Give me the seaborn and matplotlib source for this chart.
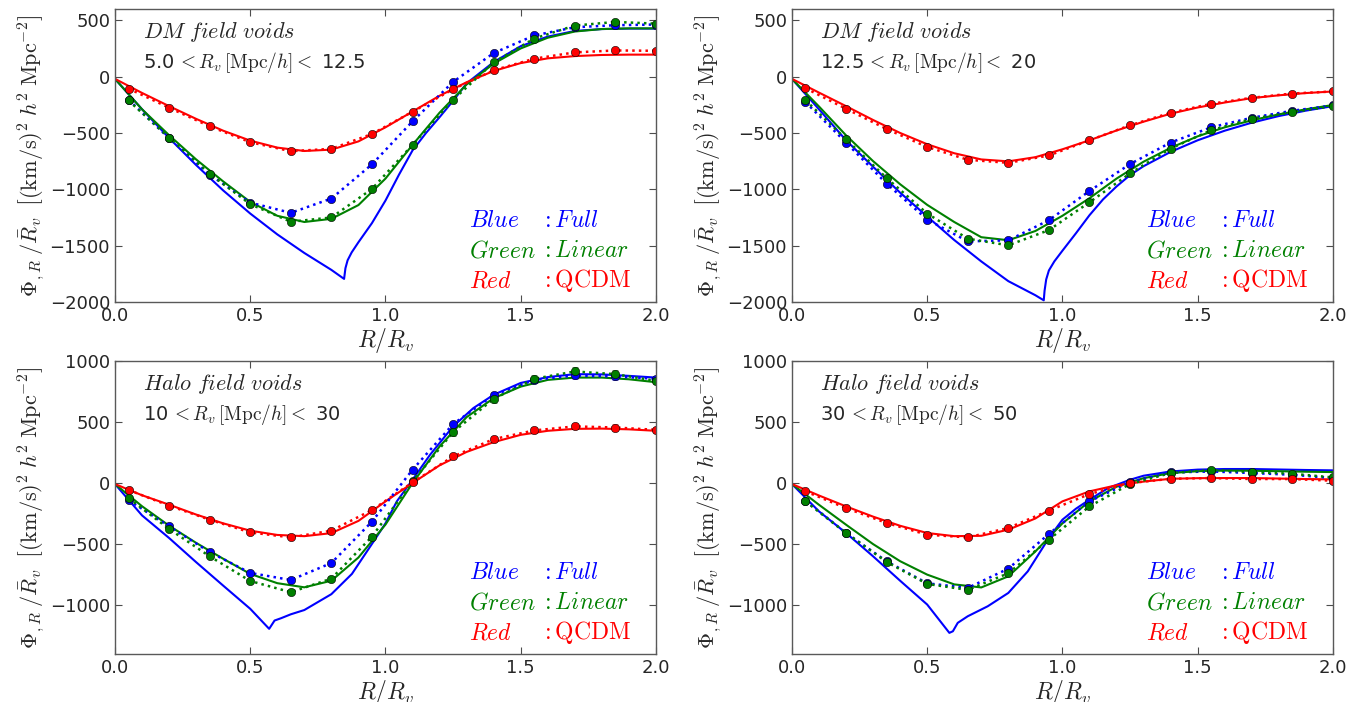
import matplotlib
matplotlib.use("Agg")
import matplotlib.pyplot as plt
import seaborn as sns
import numpy as np

# sampled radii of the measured profiles
R_PTS = [0.05, 0.2, 0.35, 0.5, 0.65, 0.8, 0.95, 1.1, 1.25, 1.4, 1.55, 1.7, 1.85, 2.0]

# ---- DM field voids, 5.0 < Rv < 12.5 ----
DM1_FULL_PTS = [-205, -547, -870, -1118, -1209, -1082, -779, -397, -47, 209, 365, 438, 456, 462]
DM1_LIN_PTS = [-212, -541, -862, -1132, -1288, -1250, -997, -606, -206, 126, 338, 453, 485, 470]
DM1_QCDM_PTS = [-106, -276, -441, -582, -662, -641, -509, -312, -112, 56, 159, 215, 232, 229]

# ---- DM field voids, 12.5 < Rv < 20 ----
DM2_FULL_PTS = [-226, -585, -950, -1268, -1462, -1453, -1274, -1015, -776, -585, -450, -365, -303, -256]
DM2_LIN_PTS = [-209, -556, -900, -1215, -1438, -1497, -1362, -1115, -859, -638, -476, -374, -315, -262]
DM2_QCDM_PTS = [-103, -285, -465, -624, -738, -765, -700, -565, -432, -321, -241, -188, -150, -132]

# ---- Halo field voids, 10 < Rv < 30 ----
HALO1_FULL_PTS = [-139, -355, -565, -736, -794, -655, -316, 109, 483, 720, 845, 881, 873, 854]
HALO1_LIN_PTS = [-123, -376, -600, -802, -894, -783, -439, 14, 417, 690, 854, 914, 892, 837]
HALO1_QCDM_PTS = [-57, -185, -300, -404, -445, -390, -221, 5, 218, 360, 431, 464, 455, 436]
HALO1_FULL_ERR = [8, 10, 12, 14, 15, 15, 15, 18, 20, 22, 25, 25, 25, 25]
HALO1_LIN_ERR = [8, 10, 14, 16, 18, 18, 18, 22, 35, 35, 30, 35, 35, 25]
HALO1_QCDM_ERR = [5, 8, 10, 12, 12, 12, 12, 15, 20, 22, 25, 25, 25, 25]

# ---- Halo field voids, 30 < Rv < 50 ----
HALO2_FULL_PTS = [-145, -409, -641, -821, -859, -701, -417, -150, 8, 87, 95, 82, 68, 41]
HALO2_LIN_PTS = [-150, -409, -646, -826, -875, -739, -464, -191, -8, 82, 106, 90, 76, 46]
HALO2_QCDM_PTS = [-68, -205, -327, -423, -445, -368, -226, -90, 0, 35, 41, 33, 33, 19]

# theory curves (linear + QCDM share a grid, full model has its own because of the cusp)
R_THEO = [0.0, 0.1, 0.2, 0.3, 0.4, 0.5, 0.6, 0.7, 0.8, 0.9, 1.0,
          1.1, 1.2, 1.3, 1.4, 1.5, 1.6, 1.7, 1.8, 1.9, 2.0]

DM1_LIN_THEO = [-20, -290, -520, -735, -930, -1112, -1235, -1290, -1262, -1140, -905,
                -606, -320, -70, 115, 250, 345, 400, 422, 428, 428]
DM1_QCDM_THEO = [-20, -145, -262, -375, -480, -568, -630, -660, -648, -575, -450,
                 -310, -170, -50, 50, 120, 162, 182, 192, 195, 195]
DM1_FULL_R = [0.0, 0.1, 0.2, 0.3, 0.4, 0.5, 0.6, 0.7, 0.8, 0.847, 0.852, 0.86, 0.875, 0.9,
              0.95, 1.0, 1.05, 1.1, 1.15, 1.2, 1.25, 1.3, 1.4, 1.5, 1.6, 1.7, 1.8, 1.9, 2.0]
DM1_FULL_THEO = [-20, -290, -545, -785, -1010, -1215, -1400, -1565, -1715, -1795, -1700, -1630,
                 -1560, -1470, -1300, -1100, -870, -655, -500, -360, -215, -60, 129, 270, 355,
                 405, 422, 426, 426]

DM2_LIN_THEO = [-20, -265, -521, -750, -955, -1138, -1290, -1425, -1452, -1370, -1235,
                -1079, -905, -755, -632, -530, -450, -388, -335, -290, -252]
DM2_QCDM_THEO = [-20, -142, -262, -385, -500, -600, -680, -735, -752, -715, -645,
                 -565, -478, -400, -329, -274, -230, -191, -166, -146, -132]
DM2_FULL_R = [0.0, 0.1, 0.2, 0.3, 0.4, 0.5, 0.6, 0.7, 0.8, 0.9, 0.931, 0.934, 0.94, 0.95,
              0.97, 1.0, 1.05, 1.1, 1.15, 1.2, 1.25, 1.3, 1.4, 1.5, 1.6, 1.7, 1.8, 1.9, 2.0]
DM2_FULL_THEO = [-20, -290, -565, -800, -1030, -1241, -1450, -1640, -1815, -1940, -1985, -1900,
                 -1800, -1720, -1640, -1545, -1390, -1230, -1090, -975, -874, -795, -668, -565,
                 -480, -409, -350, -302, -262]

HALO1_LIN_THEO = [-8, -190, -349, -490, -620, -744, -820, -854, -800, -610, -340,
                  0, 300, 540, 695, 790, 845, 864, 864, 850, 826]
HALO1_QCDM_THEO = [-8, -100, -177, -258, -330, -390, -425, -435, -410, -310, -150,
                   0, 145, 255, 335, 395, 428, 444, 446, 440, 428]
HALO1_FULL_R = [0.0, 0.1, 0.2, 0.3, 0.4, 0.5, 0.57, 0.59, 0.614, 0.65, 0.7, 0.8, 0.876, 0.958,
                1.0, 1.042, 1.1, 1.165, 1.25, 1.325, 1.4, 1.5, 1.6, 1.7, 1.8, 1.9, 2.0]
HALO1_FULL_THEO = [-8, -265, -450, -648, -840, -1030, -1194, -1126, -1107, -1075, -1040, -910,
                   -744, -472, -330, -150, 27, 232, 464, 614, 723, 820, 868, 892, 890, 878, 864]

HALO2_LIN_THEO = [-8, -178, -341, -500, -640, -750, -830, -855, -764, -560, -330,
                  -150, -30, 40, 82, 97, 102, 101, 97, 93, 90]
HALO2_QCDM_THEO = [-8, -102, -191, -275, -350, -409, -435, -432, -382, -290, -150,
                   -68, -18, 12, 35, 40, 41, 41, 37, 33, 30]
HALO2_FULL_R = [0.0, 0.1, 0.2, 0.3, 0.4, 0.5, 0.582, 0.595, 0.613, 0.65, 0.724, 0.8, 0.872,
                0.95, 1.0, 1.05, 1.1, 1.169, 1.25, 1.3, 1.4, 1.5, 1.6, 1.7, 1.8, 1.9, 2.0]
HALO2_FULL_THEO = [-8, -232, -409, -600, -800, -995, -1227, -1214, -1145, -1091, -1009, -900,
                   -723, -450, -300, -210, -136, -41, 27, 60, 95, 110, 115, 115, 111, 107, 104]

BLUE, GREEN, RED = "#0000ff", "#008000", "#ff0000"

sns.set_style("ticks")
plt.rcParams["font.family"] = ["DejaVu Sans"]
plt.rcParams["mathtext.fontset"] = "cm"
plt.rcParams["xtick.direction"] = "in"
plt.rcParams["ytick.direction"] = "in"
plt.rcParams["xtick.top"] = True
plt.rcParams["ytick.right"] = True

YLABEL = r"$\Phi_{,R}\;/\bar{R}_v\;\;\left[(\mathrm{km/s})^2\;h^2\;\mathrm{Mpc}^{-2}\right]$"

panels = [
    (r"$DM\ field\ voids$", r"5.0$\,<R_v\,[\mathrm{Mpc}/h]<$ 12.5",
     DM1_FULL_R, DM1_FULL_THEO, DM1_LIN_THEO, DM1_QCDM_THEO,
     DM1_FULL_PTS, DM1_LIN_PTS, DM1_QCDM_PTS, None, (-2000, 600), [-2000, -1500, -1000, -500, 0, 500]),
    (r"$DM\ field\ voids$", r"12.5$\,<R_v\,[\mathrm{Mpc}/h]<$ 20",
     DM2_FULL_R, DM2_FULL_THEO, DM2_LIN_THEO, DM2_QCDM_THEO,
     DM2_FULL_PTS, DM2_LIN_PTS, DM2_QCDM_PTS, None, (-2000, 600), [-2000, -1500, -1000, -500, 0, 500]),
    (r"$Halo\ field\ voids$", r"10$\,<R_v\,[\mathrm{Mpc}/h]<$ 30",
     HALO1_FULL_R, HALO1_FULL_THEO, HALO1_LIN_THEO, HALO1_QCDM_THEO,
     HALO1_FULL_PTS, HALO1_LIN_PTS, HALO1_QCDM_PTS,
     (HALO1_FULL_ERR, HALO1_LIN_ERR, HALO1_QCDM_ERR), (-1400, 1000), [-1000, -500, 0, 500, 1000]),
    (r"$Halo\ field\ voids$", r"30$\,<R_v\,[\mathrm{Mpc}/h]<$ 50",
     HALO2_FULL_R, HALO2_FULL_THEO, HALO2_LIN_THEO, HALO2_QCDM_THEO,
     HALO2_FULL_PTS, HALO2_LIN_PTS, HALO2_QCDM_PTS, None, (-1400, 1000), [-1000, -500, 0, 500, 1000]),
]

fig = plt.figure(figsize=(13.64, 7.02), dpi=100)
boxes = [(0.0843, 0.5698), (0.5806, 0.5698), (0.0843, 0.0684), (0.5806, 0.0684)]

for (x0, y0), p in zip(boxes, panels):
    title, rng, full_r, full_t, lin_t, qcdm_t, full_p, lin_p, qcdm_p, errs, ylim, yticks = p
    ax = fig.add_axes([x0, y0, 0.3966, 0.4174])

    sns.lineplot(x=full_r, y=full_t, color=BLUE, lw=1.5, ax=ax, estimator=None, sort=False)
    sns.lineplot(x=R_THEO, y=lin_t, color=GREEN, lw=1.5, ax=ax, estimator=None, sort=False)
    sns.lineplot(x=R_THEO, y=qcdm_t, color=RED, lw=1.5, ax=ax, estimator=None, sort=False)

    if errs is None:
        errs = (None, None, None)
    for vals, err, col in zip((full_p, lin_p, qcdm_p), errs, (BLUE, GREEN, RED)):
        ax.errorbar(R_PTS, vals, yerr=err, fmt="o", ls=":", color=col, lw=1.8,
                    ms=6, mec="k", mew=0.4, capsize=2, elinewidth=1)

    ax.set_xlim(0, 2.0)
    ax.set_ylim(*ylim)
    ax.set_xticks([0.0, 0.5, 1.0, 1.5, 2.0])
    ax.set_yticks(yticks)
    ax.tick_params(labelsize=13, length=5, width=0.8, color="0.3")
    for s in ax.spines.values():
        s.set_color("0.35")
        s.set_linewidth(1.0)

    ax.set_xlabel(r"$R/R_v$", fontsize=17, labelpad=1)
    ax.set_ylabel(YLABEL, fontsize=16)
    ax.yaxis.set_label_coords(-0.125, 0.5)

    ax.text(0.052, 0.90, title, transform=ax.transAxes, fontsize=16)
    ax.text(0.052, 0.80, rng, transform=ax.transAxes, fontsize=14)

    ax.text(0.654, 0.255, r"$Blue$", color=BLUE, transform=ax.transAxes, fontsize=17)
    ax.text(0.654, 0.152, r"$Green$", color=GREEN, transform=ax.transAxes, fontsize=17)
    ax.text(0.654, 0.050, r"$Red$", color=RED, transform=ax.transAxes, fontsize=17)
    ax.text(0.786, 0.255, r"$:Full$", color=BLUE, transform=ax.transAxes, fontsize=17)
    ax.text(0.786, 0.152, r"$:Linear$", color=GREEN, transform=ax.transAxes, fontsize=17)
    ax.text(0.786, 0.050, r"$:\mathrm{QCDM}$", color=RED, transform=ax.transAxes, fontsize=17)

fig.savefig("out.png", dpi=100)
